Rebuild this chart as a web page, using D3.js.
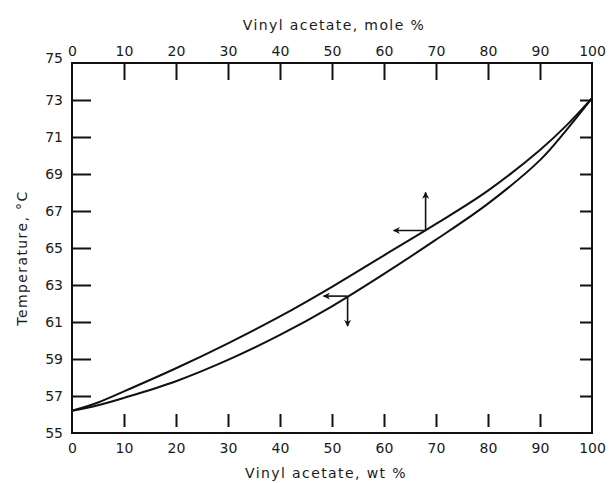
<!DOCTYPE html>
<html>
<head>
<meta charset="utf-8">
<style>
  body { margin: 0; background: #fff; }
  svg text { font-family: "DejaVu Sans", sans-serif; fill: #1a1a1a; }
</style>
</head>
<body>
<div id="chart"></div>
<script src="https://cdnjs.cloudflare.com/ajax/libs/d3/7.8.5/d3.min.js"></script>
<script>
// values
var wtTicks = [0, 10, 20, 30, 40, 50, 60, 70, 80, 90, 100];
var moleTicks = [0, 10, 20, 30, 40, 50, 60, 70, 80, 90, 100];
var tempTicks = [55, 57, 59, 61, 63, 65, 67, 69, 71, 73, 75];

var wt = [0, 5, 10, 20, 30, 40, 50, 60, 70, 80, 90, 95, 100];
var upperTemp = [56.2, 56.65, 57.25, 58.5, 59.85, 61.3, 62.9, 64.6, 66.3, 68.1, 70.3, 71.6, 73.1];
var lowerTemp = [56.2, 56.5, 56.9, 57.8, 58.95, 60.3, 61.85, 63.6, 65.45, 67.4, 69.75, 71.35, 73.1];

// arrow markers on each curve: which axis the curve is read against
var arrowWt = [68, 53];
var arrowTemp = [65.95, 62.4];
var arrowDirs = [["left", "up"], ["left", "down"]];

var W = 609, H = 483;
var x = d3.scaleLinear().domain([0, 100]).range([72, 592]);
var y = d3.scaleLinear().domain([55, 75]).range([433, 63]);

var svg = d3.select("#chart").append("svg")
	.attr("width", W).attr("height", H);

svg.append("defs").append("marker")
	.attr("id", "head")
	.attr("viewBox", "0 0 10 10")
	.attr("refX", 9).attr("refY", 5)
	.attr("markerWidth", 7).attr("markerHeight", 7)
	.attr("markerUnits", "userSpaceOnUse")
	.attr("orient", "auto")
	.append("path")
	.attr("d", "M0,0 L10,5 L0,10 L3,5 Z")
	.attr("fill", "#111");

// frame
svg.append("rect")
	.attr("x", x(0)).attr("y", y(75))
	.attr("width", x(100) - x(0)).attr("height", y(55) - y(75))
	.attr("fill", "none").attr("stroke", "#111").attr("stroke-width", 2);

function styleAxis(g) {
	g.select(".domain").remove();
	g.selectAll("line").attr("stroke", "#111").attr("stroke-width", 2);
	g.selectAll("text").attr("font-size", 14).attr("fill", "#1a1a1a")
		.style("font-family", "'DejaVu Sans', sans-serif");
}

// top axis (mole %)
var axTop = svg.append("g").attr("transform", "translate(0," + y(75) + ")")
	.call(d3.axisTop(x).tickValues(moleTicks).tickSize(-17).tickFormat(d3.format("d")));
styleAxis(axTop);
axTop.selectAll("text").attr("y", -7);
axTop.selectAll(".tick").filter(function(d) { return d === 0 || d === 100; }).select("line").remove();

// bottom axis (wt %), ticks sit a little above the frame line as in the scan
var axBottom = svg.append("g").attr("transform", "translate(0," + y(55) + ")")
	.call(d3.axisBottom(x).tickValues(wtTicks).tickSize(0).tickFormat(d3.format("d")));
styleAxis(axBottom);
axBottom.selectAll("line").attr("y1", -6).attr("y2", -19);
axBottom.selectAll("text").attr("y", 10);
axBottom.selectAll(".tick").filter(function(d) { return d === 0 || d === 100; }).select("line").remove();

// left axis
var axLeft = svg.append("g").attr("transform", "translate(" + x(0) + ",0)")
	.call(d3.axisLeft(y).tickValues(tempTicks).tickSize(-19).tickFormat(d3.format("d")));
styleAxis(axLeft);
axLeft.selectAll("text").attr("x", -9);
axLeft.selectAll(".tick").filter(function(d) { return d === 55 || d === 75; }).select("line").remove();
axLeft.selectAll(".tick").filter(function(d) { return d === 75; }).select("text").attr("dy", "-0.05em");

// right axis: ticks only
var axRight = svg.append("g").attr("transform", "translate(" + x(100) + ",0)")
	.call(d3.axisRight(y).tickValues(tempTicks.filter(function(d) { return d > 55 && d < 75; }))
		.tickSize(-12).tickFormat(""));
styleAxis(axRight);

// titles
svg.append("text")
	.attr("x", 334).attr("y", 30)
	.attr("text-anchor", "middle").attr("font-size", 14)
	.attr("letter-spacing", 1.4)
	.text("Vinyl acetate, mole %");

svg.append("text")
	.attr("x", 326).attr("y", 478)
	.attr("text-anchor", "middle").attr("font-size", 14)
	.attr("letter-spacing", 1.4)
	.text("Vinyl acetate, wt %");

svg.append("text")
	.attr("transform", "translate(27,258) rotate(-90)")
	.attr("text-anchor", "middle").attr("font-size", 14)
	.attr("letter-spacing", 1.4)
	.text("Temperature, °C");

// curves
var line = d3.line()
	.x(function(d) { return x(d[0]); })
	.y(function(d) { return y(d[1]); })
	.curve(d3.curveCatmullRom.alpha(0.5));

[upperTemp, lowerTemp].forEach(function(series) {
	svg.append("path")
		.datum(d3.zip(wt, series))
		.attr("d", line)
		.attr("fill", "none")
		.attr("stroke", "#111")
		.attr("stroke-width", 2);
});

// little arrow pairs
var armLen = {left: 32, up: 38, down: 30};
arrowWt.forEach(function(w, i) {
	var cx = x(w), cy = y(arrowTemp[i]);
	arrowDirs[i].forEach(function(dir) {
		var ex = cx, ey = cy;
		if (dir === "left") ex = cx - (i === 0 ? armLen.left : 24);
		if (dir === "up") ey = cy - armLen.up;
		if (dir === "down") ey = cy + armLen.down;
		svg.append("line")
			.attr("x1", cx).attr("y1", cy).attr("x2", ex).attr("y2", ey)
			.attr("stroke", "#111").attr("stroke-width", 1.6)
			.attr("marker-end", "url(#head)");
	});
});
</script>
</body>
</html>
